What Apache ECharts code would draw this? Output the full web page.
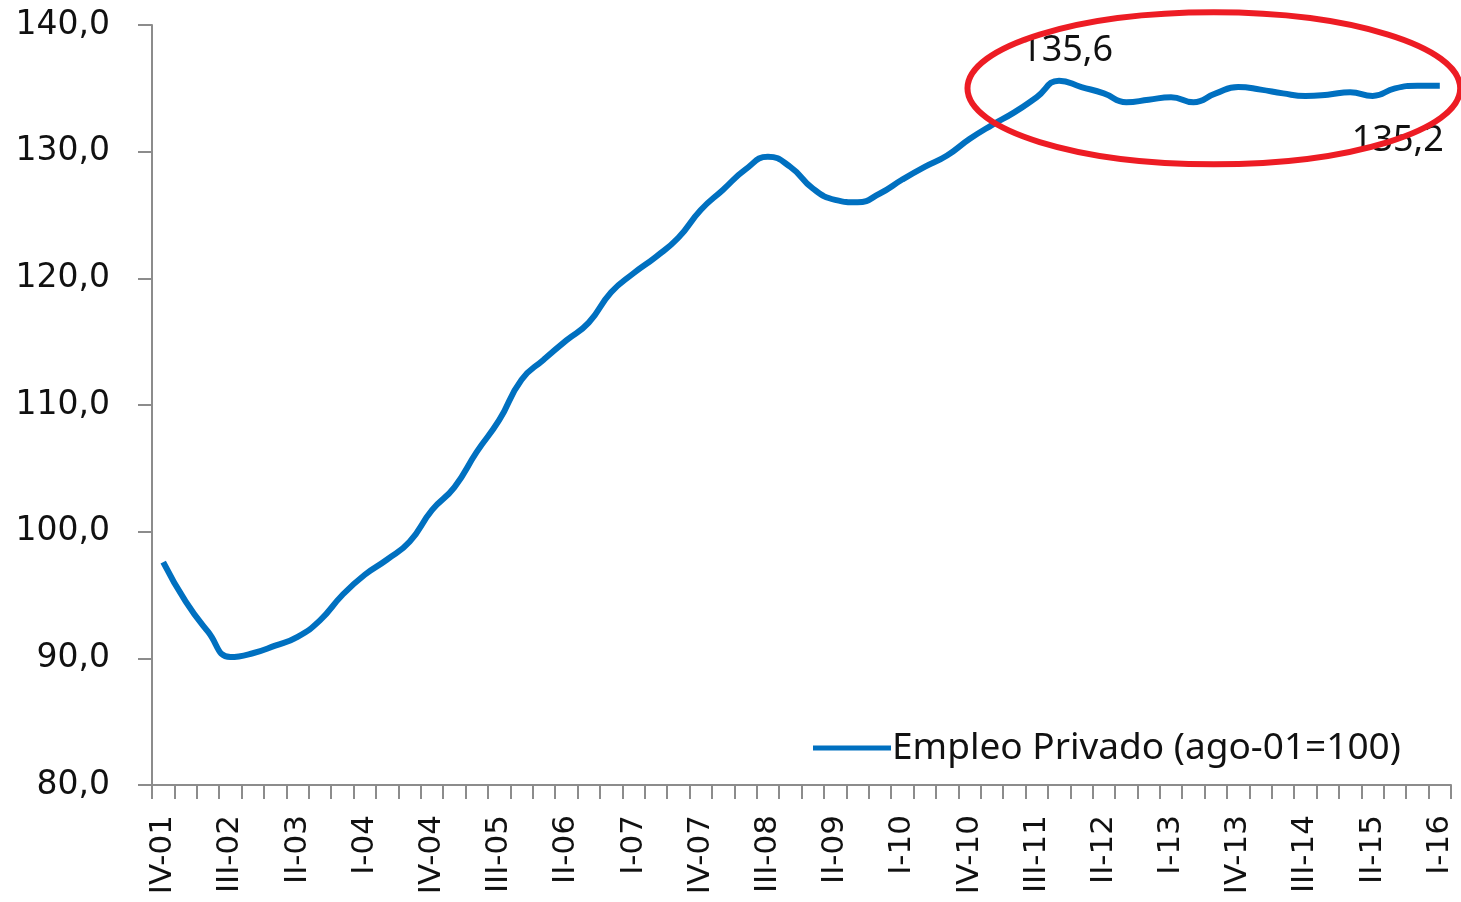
<!DOCTYPE html>
<html>
<head>
<meta charset="UTF-8">
<title>Empleo Privado</title>
<style>
  html, body { margin: 0; padding: 0; background: #fff; }
  #main { width: 1461px; height: 902px; }
</style>
</head>
<body>
<div id="main"></div>
<script src="https://cdn.jsdelivr.net/npm/echarts@6/dist/echarts.min.js"></script>
<script>
// trimestres IV-01 .. I-16
var quarters = [];
var romans = ['I', 'II', 'III', 'IV'];
for (var y = 2001; y <= 2016; y++) {
    for (var q = 0; q < 4; q++) {
        if (y === 2001 && q < 3) continue;
        if (y === 2016 && q > 0) continue;
        quarters.push(romans[q] + '-' + String(y).slice(2));
    }
}

var empleoPrivado = [
    97.6, 94.5, 92.1, 90.1, 90.4, 91.0, 91.7, 93.0, 95.0, 96.6,
    97.8, 99.2, 101.7, 103.5, 106.3, 108.8, 112.0, 113.6, 115.1, 116.5,
    118.9, 120.4, 121.7, 123.2, 125.4, 127.0, 128.6, 129.6, 128.8, 127.1,
    126.2, 126.0, 126.7, 127.8, 128.8, 129.7, 131.0, 132.1, 133.1, 134.3,
    135.6, 135.1, 134.6, 133.9, 134.1, 134.3, 133.9, 134.6, 135.1, 134.9,
    134.6, 134.4, 134.5, 134.7, 134.4, 135.0, 135.2, 135.2
];

var yTicks = [80, 90, 100, 110, 120, 130, 140];

// puntos con etiqueta: máximo y último dato
var iMax = 40;
var iLast = empleoPrivado.length - 1;

function fmt(v) {
    return v.toFixed(1).replace('.', ',');
}

var axisGray = '#8c8c8c';

var myChart = echarts.init(document.getElementById('main'));

myChart.setOption({
    animation: false,
    backgroundColor: '#fff',
    grid: { left: 152, right: 10, top: 25, bottom: 117, containLabel: false },
    legend: {
        left: 808,
        top: 721,
        icon: 'rect',
        itemWidth: 78,
        itemHeight: 5,
        itemGap: 6,
        data: ['Empleo Privado (ago-01=100)'],
        textStyle: {
            fontFamily: 'Noto Sans',
            fontSize: 37,
            color: '#111',
            lineHeight: 44,
            padding: [0, 0, 0, -4]
        }
    },
    xAxis: {
        type: 'category',
        data: quarters,
        boundaryGap: true,
        axisLine: { lineStyle: { color: axisGray, width: 2 } },
        axisTick: { show: true, interval: 0, length: 14, lineStyle: { color: axisGray, width: 2 } },
        axisLabel: {
            interval: 2,
            rotate: 90,
            margin: 30,
            fontFamily: 'DejaVu Sans',
            fontSize: 31,
            color: '#111'
        },
        splitLine: { show: false }
    },
    yAxis: {
        type: 'value',
        min: yTicks[0],
        max: yTicks[yTicks.length - 1],
        interval: 10,
        axisLine: { show: true, lineStyle: { color: axisGray, width: 2 } },
        axisTick: { show: true, length: 14, lineStyle: { color: axisGray, width: 2 } },
        axisLabel: {
            margin: 42,
            fontFamily: 'DejaVu Sans',
            fontSize: 33,
            color: '#111',
            formatter: function (v) { return fmt(v); }
        },
        splitLine: { show: false }
    },
    series: [{
        name: 'Empleo Privado (ago-01=100)',
        type: 'line',
        data: empleoPrivado,
        smooth: 0.5,
        showSymbol: false,
        symbol: 'none',
        color: '#0070C0',
        itemStyle: { color: '#0070C0' },
        lineStyle: { color: '#0070C0', width: 6 },
        markPoint: {
            symbol: 'circle',
            symbolSize: 0,
            silent: true,
            label: {
                show: true,
                fontFamily: 'Noto Sans',
                fontSize: 36,
                color: '#111',
                formatter: function (p) { return fmt(p.value); }
            },
            data: [
                {
                    coord: [iMax, empleoPrivado[iMax]],
                    value: empleoPrivado[iMax],
                    label: { position: 'top', distance: 12, offset: [8, 0] }
                },
                {
                    coord: [iLast, empleoPrivado[iLast]],
                    value: empleoPrivado[iLast],
                    label: { position: 'bottom', distance: 37, offset: [-42, 0] }
                }
            ]
        }
    }]
});

// elipse roja alrededor del tramo final
var p0 = myChart.convertToPixel({ seriesIndex: 0 }, [0, 135]);
var pEnd = myChart.convertToPixel({ seriesIndex: 0 }, [57, 135]);
var step = (pEnd[0] - p0[0]) / 57;
var pc = myChart.convertToPixel({ seriesIndex: 0 }, [47, 135]);
var pLow = myChart.convertToPixel({ seriesIndex: 0 }, [47, 129]);

myChart.setOption({
    graphic: [{
        type: 'ellipse',
        z: 100,
        shape: { cx: pc[0] - 2, cy: pc[1], rx: step * 11, ry: pLow[1] - pc[1] },
        style: { fill: 'none', stroke: '#ED1C24', lineWidth: 6 }
    }]
});
</script>
</body>
</html>
